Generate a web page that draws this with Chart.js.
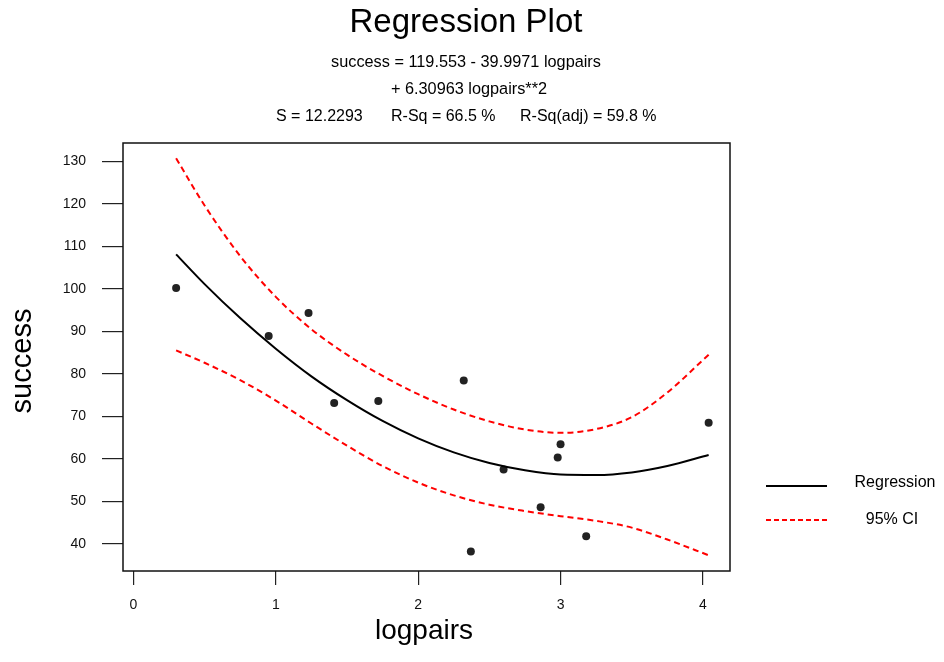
<!DOCTYPE html>
<html><head><meta charset="utf-8">
<script src="https://cdn.jsdelivr.net/npm/chart.js@4/dist/chart.umd.min.js"></script>
<style>html,body{margin:0;padding:0;background:#fff}canvas{display:block}</style>
</head><body>
<canvas id="c" width="944" height="662"></canvas>
<script>
// ---- data ----
const pointX = [0.30, 0.95, 1.23, 1.41, 1.72, 2.32, 2.37, 2.60, 2.86, 2.98, 3.00, 3.18, 4.04];
const pointY = [100.2, 88.9, 94.3, 73.1, 73.6, 78.4, 38.2, 57.5, 48.6, 60.3, 63.4, 41.8, 68.5];

const curveX      = [0.3, 0.5, 0.75, 1.0, 1.25, 1.5, 1.75, 2.0, 2.25, 2.5, 2.75, 3.0, 3.25, 3.5, 3.75, 4.04];
const regressionY = [108.1, 101.1, 93.1, 85.9, 79.4, 73.8, 68.9, 64.8, 61.5, 59.0, 57.3, 56.3, 56.2, 56.8, 58.3, 60.9];
const upperCI     = [130.7, 119.6, 107.7, 98.1, 90.5, 84.5, 79.5, 75.2, 71.6, 68.8, 66.9, 66.1, 67.0, 69.8, 75.6, 84.5];
const lowerCI     = [85.5, 82.6, 78.5, 73.7, 68.3, 63.1, 58.3, 54.4, 51.4, 49.2, 47.7, 46.5, 45.4, 43.8, 41.0, 37.3];

const xTicks = [0, 1, 2, 3, 4];
const yTicks = [40, 50, 60, 70, 80, 90, 100, 110, 120, 130];

const titleText = 'Regression Plot';
const equationLines = ['success = 119.553 - 39.9971 logpairs', '+ 6.30963 logpairs**2'];
const statsTexts = ['S = 12.2293', 'R-Sq = 66.5 %', 'R-Sq(adj) = 59.8 %'];
const legendLabels = ['Regression', '95% CI'];
const xTitle = 'logpairs';
const yTitle = 'success';

// ---- build library structures ----
const FONT = '"Liberation Sans", Arial, sans-serif';
const toXY = (xs, ys) => xs.map((x, i) => ({x: x, y: ys[i]}));

const decor = {
  id: 'decor',
  afterDraw(chart) {
    const ctx = chart.ctx, a = chart.chartArea;
    ctx.save();
    // frame
    ctx.strokeStyle = '#111';
    ctx.lineWidth = 1.5;
    ctx.strokeRect(a.left, a.top, a.right - a.left, a.bottom - a.top);
    ctx.fillStyle = '#000';
    // title
    ctx.textAlign = 'center';
    ctx.textBaseline = 'middle';
    ctx.font = '33px ' + FONT;
    ctx.fillText(titleText, 466, 23);
    ctx.font = '16.3px ' + FONT;
    ctx.fillText(equationLines[0], 466, 63);
    ctx.fillText(equationLines[1], 469, 90);
    ctx.font = '16px ' + FONT;
    ctx.textAlign = 'left';
    ctx.fillText(statsTexts[0], 276, 117);
    ctx.fillText(statsTexts[1], 391, 117);
    ctx.fillText(statsTexts[2], 520, 117);
    // axis titles
    ctx.textAlign = 'center';
    ctx.font = '28px ' + FONT;
    ctx.fillText(xTitle, 424, 631);
    ctx.save();
    ctx.translate(23, 361);
    ctx.rotate(-Math.PI / 2);
    ctx.font = '29px ' + FONT;
    ctx.fillText(yTitle, 0, 0);
    ctx.restore();
    // legend
    ctx.lineWidth = 2;
    ctx.strokeStyle = '#000';
    ctx.setLineDash([]);
    ctx.beginPath(); ctx.moveTo(766, 486); ctx.lineTo(827, 486); ctx.stroke();
    ctx.strokeStyle = '#ff0000';
    ctx.setLineDash([5, 3]);
    ctx.beginPath(); ctx.moveTo(766, 520); ctx.lineTo(827, 520); ctx.stroke();
    ctx.setLineDash([]);
    ctx.font = '16px ' + FONT;
    ctx.fillStyle = '#000';
    ctx.fillText(legendLabels[0], 895, 483);
    ctx.fillText(legendLabels[1], 892, 520);
    ctx.restore();
  }
};

new Chart(document.getElementById('c'), {
  type: 'scatter',
  data: {
    datasets: [
      { label: legendLabels[1], data: toXY(curveX, upperCI), showLine: true, borderColor: '#ff0000',
        borderWidth: 2, borderDash: [6, 4], pointRadius: 0, cubicInterpolationMode: 'monotone', fill: false },
      { label: legendLabels[1], data: toXY(curveX, lowerCI), showLine: true, borderColor: '#ff0000',
        borderWidth: 2, borderDash: [6, 4], pointRadius: 0, cubicInterpolationMode: 'monotone', fill: false },
      { label: legendLabels[0], data: toXY(curveX, regressionY), showLine: true, borderColor: '#000',
        borderWidth: 2, pointRadius: 0, cubicInterpolationMode: 'monotone', fill: false },
      { label: 'data', data: toXY(pointX, pointY), showLine: false, pointRadius: 4,
        pointBackgroundColor: '#222', pointBorderWidth: 0, pointStyle: 'circle' }
    ]
  },
  options: {
    responsive: false,
    animation: false,
    devicePixelRatio: 1,
    layout: { padding: { top: 143, right: 214, left: 0, bottom: 0 } },
    plugins: { legend: { display: false }, title: { display: false }, tooltip: { enabled: false } },
    scales: {
      x: {
        type: 'linear', min: -0.073, max: 4.19,
        afterFit(s) { s.height = 91; },
        afterBuildTicks(s) { s.ticks = xTicks.map(v => ({value: v})); },
        grid: { display: true, drawOnChartArea: false, drawTicks: true, tickLength: 14, color: '#222', lineWidth: 1.2 },
        border: { display: false },
        ticks: { color: '#111', font: { family: FONT, size: 14 }, padding: 12, maxRotation: 0 }
      },
      y: {
        type: 'linear', min: 33.6, max: 134.3,
        afterFit(s) { s.width = 123; },
        afterBuildTicks(s) { s.ticks = yTicks.map(v => ({value: v})); },
        grid: { display: true, drawOnChartArea: false, drawTicks: true, tickLength: 21, color: '#222', lineWidth: 1.2 },
        border: { display: false },
        ticks: { color: '#111', font: { family: FONT, size: 14 }, padding: 16 }
      }
    }
  },
  plugins: [decor]
});
</script>
</body></html>
